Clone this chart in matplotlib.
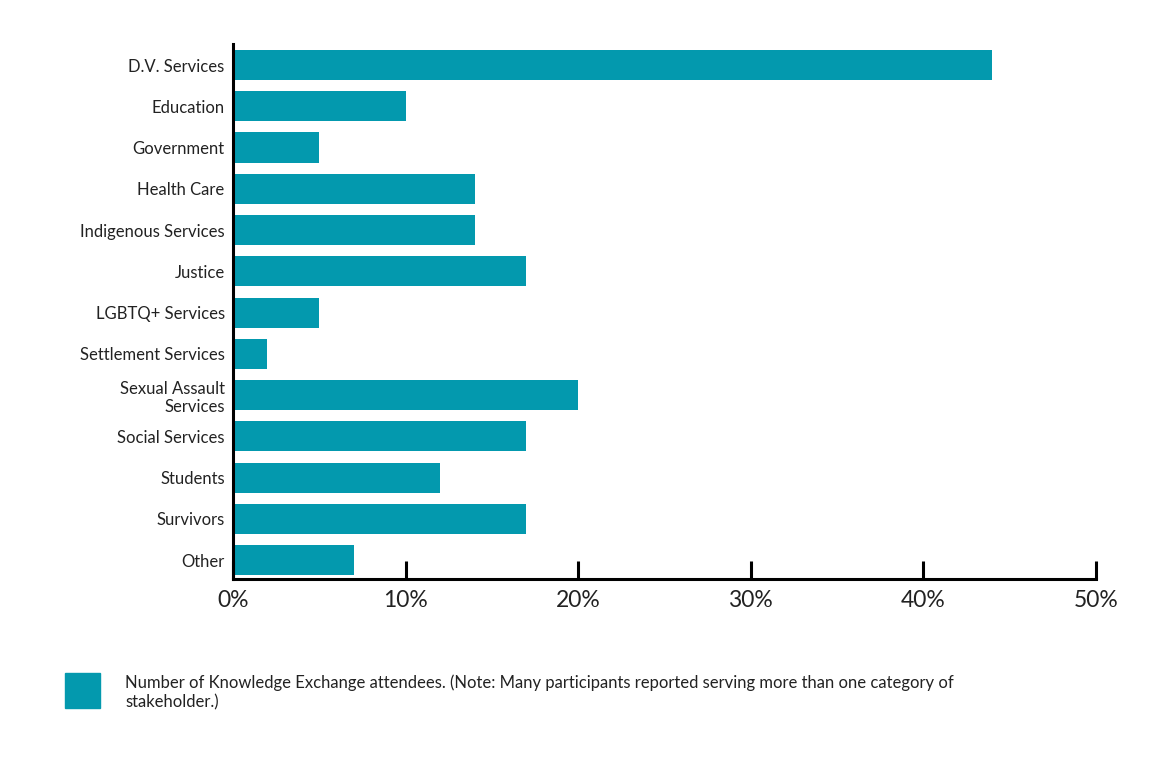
import matplotlib
matplotlib.use("Agg")
import matplotlib.pyplot as plt
from matplotlib.patches import Rectangle

# ── Podaci ───────────────────────────────────────────────────
kategorije = ["D.V. Services", "Education", "Government", "Health Care",
              "Indigenous Services", "Justice", "LGBTQ+ Services",
              "Settlement Services", "Sexual Assault\nServices",
              "Social Services", "Students", "Survivors", "Other"]
procenti = [44, 10, 5, 14, 14, 17, 5, 2, 20, 17, 12, 17, 7]
x_ticks = [0, 10, 20, 30, 40, 50]
x_labels = ["0%", "10%", "20%", "30%", "40%", "50%"]
legenda = ("Number of Knowledge Exchange attendees. (Note: Many participants reported serving more than one category of\n"
           "stakeholder.)")

BOJA = "#0399ae"
plt.rcParams['font.family'] = ['Lato', 'DejaVu Sans']

fig = plt.figure(figsize=(11.59, 7.68), dpi=100)
ax = fig.add_axes([0.201, 0.246, 0.7445, 0.6967])

pos = list(range(len(kategorije)))
ax.barh(pos, procenti, height=0.73, color=BOJA)
ax.set_ylim(12.46, -0.51)
ax.set_xlim(0, 50)

ax.set_yticks(pos)
ax.set_yticklabels(kategorije, fontsize=12, color="#222222", linespacing=1.2)
ax.tick_params(axis='y', length=0, pad=6)
ax.set_xticks(x_ticks)
ax.set_xticklabels(x_labels, fontsize=16.5, color="#222222")
ax.tick_params(axis='x', direction='in', length=13, width=2.2, pad=8)

for s in ['top', 'right']:
    ax.spines[s].set_visible(False)
for s in ['left', 'bottom']:
    ax.spines[s].set_linewidth(2.2)

# ── Legenda ──────────────────────────────────────────────────
fig.patches.append(Rectangle((65/1159, 1-708/768), 35/1159, 35/768,
                             transform=fig.transFigure, color=BOJA))
fig.text(125/1159, 1-692/768, legenda, fontsize=12, color="#222222",
         va='center', ha='left', linespacing=1.25)

plt.savefig("out.png", dpi=100)
